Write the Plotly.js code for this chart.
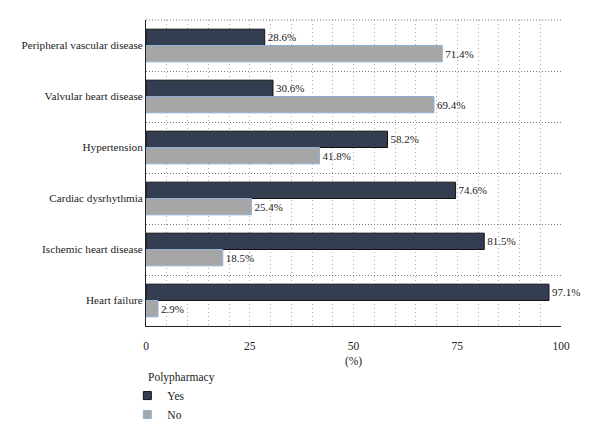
<!DOCTYPE html>
<html>
<head>
<meta charset="utf-8">
<script src="https://cdn.plot.ly/plotly-3.0.1.min.js"></script>
<style>
  html, body { margin: 0; padding: 0; background: #fff; }
  #chart { width: 600px; height: 441px; }
</style>
</head>
<body>
<div id="chart"></div>
<script>
// Share of patients with / without polypharmacy per condition (%)
const conditions = [
  "Peripheral vascular disease",
  "Valvular heart disease",
  "Hypertension",
  "Cardiac dysrhythmia",
  "Ischemic heart disease",
  "Heart failure"
];
const yesValues = [28.6, 30.6, 58.2, 74.6, 81.5, 97.1];
const noValues  = [71.4, 69.4, 41.8, 25.4, 18.5, 2.9];
const xTicks = [0, 25, 50, 75, 100];
const groupNames = ["Yes", "No"];
const legendTitle = "Polypharmacy";

const serif = "Liberation Serif, DejaVu Serif, serif";
const fmt = v => v.toFixed(1) + "%";
const yesStyle = { color: "#333e50", line: { color: "#111", width: 1 } };
const noStyle  = { color: "#a6a6a6", line: { color: "#8fb0d8", width: 1 } };

function barTrace(name, values, style) {
  return {
    type: "bar", orientation: "h", name: name,
    x: values, y: conditions,
    text: values.map(fmt), textposition: "outside", cliponaxis: false,
    textfont: { family: serif, size: 11, color: "#222" },
    marker: style, showlegend: false, legendgroup: name,
    hoverinfo: "x+y"
  };
}

// Small square keys for the legend
function keyTrace(name, style) {
  return {
    type: "scatter", mode: "markers", name: name,
    x: [null], y: [null], legendgroup: name,
    marker: { symbol: "square", size: 8, color: style.color,
              line: { color: style.line.color, width: 1 } },
    showlegend: true, hoverinfo: "skip"
  };
}

const traces = [
  barTrace(groupNames[0], yesValues, yesStyle),
  barTrace(groupNames[1], noValues, noStyle),
  keyTrace(groupNames[0], yesStyle),
  keyTrace(groupNames[1], noStyle)
];

const layout = {
  width: 600, height: 441,
  margin: { l: 146, r: 39, t: 20, b: 104 },
  paper_bgcolor: "#fff", plot_bgcolor: "#fff",
  font: { family: serif, size: 12, color: "#222" },
  barmode: "group", bargap: 0.36, bargroupgap: 0,
  showlegend: true,
  legend: {
    orientation: "v", x: -0.045, xanchor: "left", y: -0.18, yanchor: "top",
    font: { family: serif, size: 11.5, color: "#222" },
    tracegroupgap: 0, itemwidth: 30, bgcolor: "rgba(0,0,0,0)"
  },
  annotations: [{
    text: legendTitle, xref: "paper", yref: "paper",
    x: 0, xanchor: "left", y: -0.14, yanchor: "top", showarrow: false,
    font: { family: serif, size: 11.5, color: "#222" }
  }],
  // dotted frame line along the top of the plot area
  shapes: [{
    type: "line", xref: "paper", yref: "paper", x0: 0, x1: 1, y0: 1, y1: 1,
    line: { color: "#777", width: 1, dash: "1px,2px" }
  }],
  xaxis: {
    range: [0, 100], tickvals: xTicks, ticktext: xTicks.map(String),
    showline: true, linecolor: "#222", linewidth: 1,
    ticks: "", ticklabelstandoff: 9,
    tickfont: { family: serif, size: 11.5, color: "#222" },
    showgrid: true, gridcolor: "#aaa", griddash: "1px,3px", gridwidth: 1,
    minor: { dtick: 5, showgrid: true, gridcolor: "#aaa", griddash: "1px,3px", gridwidth: 1 },
    zeroline: false,
    title: { text: "(%)", font: { family: serif, size: 11.5, color: "#222" }, standoff: 6 }
  },
  yaxis: {
    type: "category", categoryorder: "array", categoryarray: conditions,
    range: [5.5, -0.5],
    showline: true, linecolor: "#222", linewidth: 1,
    ticks: "", tickson: "boundaries",
    showgrid: true, gridcolor: "#777", griddash: "1px,2px", gridwidth: 1,
    zeroline: false,
    tickfont: { family: serif, size: 11.2, color: "#222" }
  }
};

Plotly.newPlot("chart", traces, layout, { displayModeBar: false, staticPlot: true });
</script>
</body>
</html>
